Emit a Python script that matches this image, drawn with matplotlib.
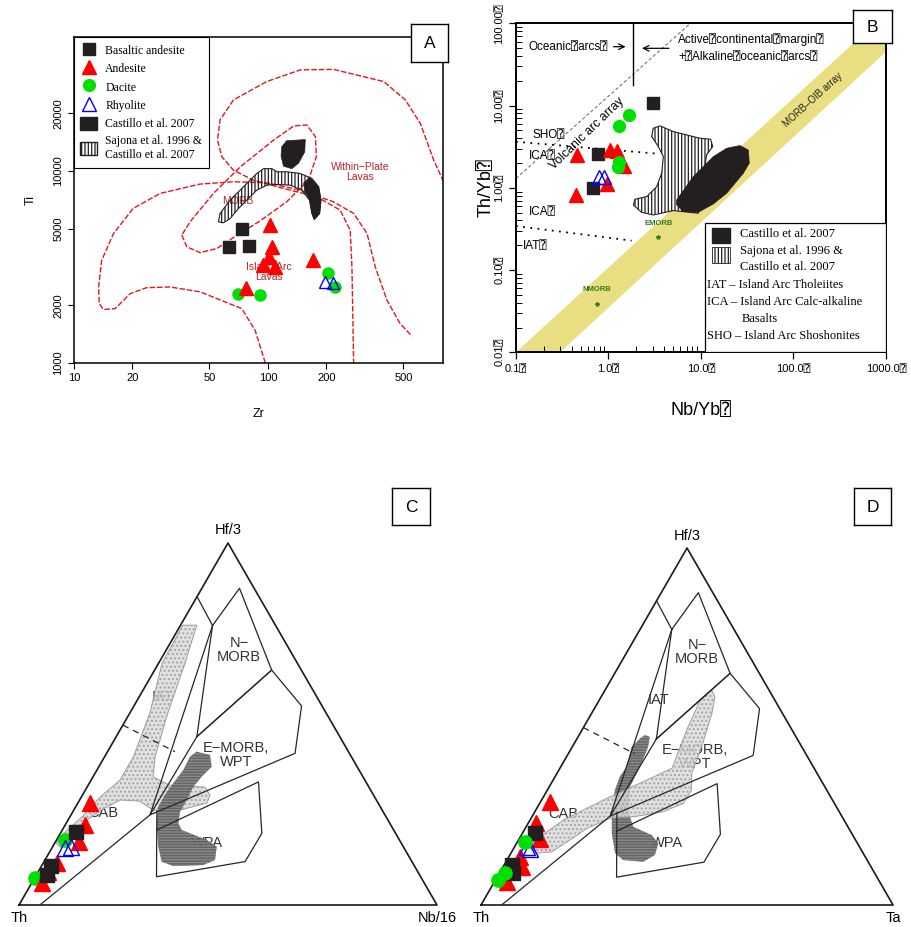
import numpy as np
import matplotlib.pyplot as plt
from matplotlib.patches import Polygon, Rectangle, Patch
from matplotlib.lines import Line2D

plt.rcParams['font.family'] = ['Liberation Sans', 'DejaVu Sans', 'DejaVu Sans Mono']
plt.rcParams['hatch.linewidth'] = 0.9

Q = '\u2370'  # the unrendered glyph box that shows in panel B
SERIF = ['Liberation Serif', 'DejaVu Serif']
BLK, RED, GRN, BLU = '#231f20', '#ff0000', '#00e000', '#0000ff'
FIELD_RED = '#e5161d'

# ---------------- panel A : Ti vs Zr ----------------
ba_zr = [74, 63, 80]
ba_ti = [5000, 4000, 4050]
and_zr = [103, 105, 101, 94, 109, 170, 77]
and_ti = [5250, 4000, 3550, 3250, 3150, 3450, 2450]
dac_zr = [70, 91, 204, 222]
dac_ti = [2300, 2250, 2950, 2500]
rhy_zr = [196, 218]
rhy_ti = [2650, 2620]

# field boundaries (Pearce 1982)
arc_zr = [97, 86, 73.4, 44.7, 31.3, 23.7, 19.5, 16.3, 14.2, 13.5, 13.4, 13.9, 16.0, 20.2,
          27.8, 44.7, 66.5, 98.8, 147, 218, 277, 325, 358, 412, 482, 554]
arc_ti = [1000, 1480, 1920, 2350, 2490, 2470, 2300, 1920, 1900, 2040, 2490, 3430, 4730, 6390,
          7650, 8560, 8800, 8690, 7960, 6920, 6020, 4730, 3170, 2120, 1600, 1380]
wp_zr = [807, 717, 612, 512, 396, 218, 147, 98.8, 66.5, 56.7, 55.0, 57.9, 66.5, 84.3, 120.5,
         179, 236, 266, 271.5, 277]
wp_ti = [8800, 11400, 17700, 23500, 29300, 33900, 33700, 29300, 23500, 18500, 14500, 11900,
         10100, 8970, 8120, 7350, 6260, 4920, 3170, 1000]
morb_zr = [36.0, 38.2, 44.7, 54.6, 66.5, 91.3, 125, 162, 178, 176, 159, 136, 107, 71.9, 52.4,
           39.7, 36.0]
morb_ti = [4640, 4030, 3760, 3950, 4510, 5510, 6920, 8970, 11900, 15100, 17400, 17200, 14500,
           10500, 7650, 5440, 4640]

cas_a_zr = [118, 125, 156, 155, 144, 133, 120.5, 117]
cas_a_ti = [13400, 14400, 14600, 12600, 11000, 10300, 10600, 12000]
saj_a_zr = [55.6, 56.7, 63.9, 74.9, 87.7, 95.0, 104.9, 111.3, 125.4, 146.9, 168.7, 182.6, 187.8,
            184.9, 173.5, 168.7, 164.1, 149.8, 130.4, 111.3, 98.8, 87.7, 77.9, 70.6, 63.9, 59.0]
saj_a_ti = [5440, 6015, 7060, 8290, 9720, 10300, 10300, 9920, 9920, 9720, 9160, 8290, 7060,
            6015, 5600, 6015, 7060, 7960, 8450, 8520, 8450, 7960, 7060, 6390, 5660, 5380]
tail_a_zr = [165, 183, 188, 185, 173.5, 169, 164, 156, 153]
tail_a_ti = [9270, 8290, 7060, 6015, 5600, 6015, 7060, 7800, 8690]

# ---------------- panel B : Th/Yb vs Nb/Yb ----------------
b_ba_x = [3.0, 0.776, 0.674]
b_ba_y = [10.6, 2.55, 0.986]
b_and_x = [0.46, 0.442, 0.955, 1.04, 1.225, 1.48]
b_and_y = [2.51, 0.818, 1.10, 2.88, 2.83, 1.86]
b_dac_x = [1.68, 1.31, 1.29, 1.27]
b_dac_y = [7.61, 5.70, 2.04, 1.81]
b_rhy_x = [0.796, 0.894]
b_rhy_y = [1.34, 1.34]

cas_b_x = [5.46, 8.26, 13.6, 18.95, 26.4, 32.5, 33.3, 28.7, 18.95, 13.6, 9.36, 6.44, 5.46]
cas_b_y = [0.711, 1.367, 2.39, 3.02, 3.26, 2.88, 1.99, 1.50, 0.857, 0.636, 0.503, 0.513, 0.618]
saj_b_x = [3.05, 3.61, 5.02, 7.0, 9.75, 12.7, 13.4, 11.5, 9.36, 5.02, 3.05, 2.28, 1.86, 1.93,
           2.59, 3.32, 3.76, 3.92, 3.46, 2.93]
saj_b_y = [5.29, 5.65, 4.82, 4.39, 4.0, 3.89, 3.17, 2.51, 0.49, 0.528, 0.467, 0.503, 0.618,
           0.725, 0.781, 1.03, 1.50, 2.39, 3.17, 4.19]

array_x = [0.1, 1000, 1000, 0.3]
array_y = [0.01, 131.8, 45, 0.01]
arc_array_x = [0.1, 7.7]
arc_array_y = [1.3, 100]
sho_x = [0.1, 3.6]
sho_y = [3.63, 2.58]
iat_x = [0.1, 1.78]
iat_y = [0.343, 0.2275]
divide_x = [1.85, 1.85]
divide_y = [17.8, 100]
ref_names = ['EMORB', 'NMORB']
ref_x = [3.45, 0.745]
ref_y = [0.25, 0.0386]

# ---------------- panels C and D : Th - Hf/3 - Nb/16 (Ta) ----------------
# compositions given as (Hf/3 fraction, Nb/16 or Ta fraction); Th is the remainder
seg_hf, seg_nb = [0.852, 0.772], [0.0, 0.077]
nmorb_hf = [0.772, 0.875, 0.649, 0.465, 0.772]
nmorb_nb = [0.077, 0.090, 0.280, 0.193, 0.077]
emorb_hf = [0.465, 0.649, 0.550, 0.419, 0.249, 0.465]
emorb_nb = [0.193, 0.280, 0.401, 0.451, 0.189, 0.193]
arc_hf = [0.772, 0.249, 0.0]
arc_nb = [0.077, 0.189, 0.05]
wpa_hf = [0.260, 0.207, 0.078, 0.120, 0.198, 0.340, 0.207]
wpa_nb = [0.200, 0.226, 0.290, 0.481, 0.482, 0.403, 0.226]
cab_hf = [0.497, 0.4235]
cab_nb = [0.0, 0.1615]

band_c_hf = [0.773, 0.773, 0.669, 0.530, 0.409, 0.354, 0.331, 0.326, 0.304, 0.282, 0.262, 0.262,
             0.287, 0.290, 0.260, 0.221, 0.157, 0.171, 0.191, 0.246, 0.298, 0.345, 0.409, 0.530,
             0.669]
band_c_nb = [0.005, 0.039, 0.063, 0.091, 0.121, 0.144, 0.195, 0.282, 0.305, 0.309, 0.254, 0.190,
             0.145, 0.097, 0.064, 0.036, 0.024, 0.003, 0.005, 0.030, 0.045, 0.069, 0.069, 0.048,
             0.008]
dark_c_hf = [0.4235, 0.4144, 0.3820, 0.3545, 0.3269, 0.2901, 0.2578, 0.2257, 0.2072, 0.1796,
             0.1611, 0.1243, 0.1105, 0.1077, 0.1196, 0.1611, 0.2257, 0.2715, 0.3039, 0.3362,
             0.3729, 0.4097]
dark_c_nb = [0.2134, 0.2497, 0.2700, 0.2599, 0.2536, 0.2562, 0.2563, 0.2683, 0.2856, 0.3592,
             0.3925, 0.4067, 0.3857, 0.3152, 0.2816, 0.2528, 0.2166, 0.1975, 0.1974, 0.2010,
             0.2066, 0.2043]
band_d_hf = [0.588, 0.602, 0.583, 0.537, 0.443, 0.369, 0.322, 0.285, 0.261, 0.247, 0.243, 0.215,
             0.182, 0.149, 0.145, 0.159, 0.177, 0.238, 0.294, 0.350, 0.383, 0.490, 0.574]
band_d_nb = [0.250, 0.259, 0.276, 0.292, 0.314, 0.327, 0.350, 0.349, 0.311, 0.246, 0.192, 0.150,
             0.125, 0.097, 0.063, 0.040, 0.038, 0.081, 0.150, 0.227, 0.272, 0.254, 0.245]
dark_d_hf = [0.476, 0.471, 0.443, 0.387, 0.331, 0.257, 0.219, 0.196, 0.173, 0.140, 0.121, 0.126,
             0.145, 0.201, 0.257, 0.322, 0.359, 0.387, 0.443, 0.467]
dark_d_nb = [0.160, 0.174, 0.184, 0.192, 0.196, 0.230, 0.260, 0.316, 0.344, 0.352, 0.333, 0.282,
             0.253, 0.217, 0.189, 0.164, 0.157, 0.160, 0.144, 0.153]

c_and_hf = [0.281, 0.221, 0.175, 0.115, 0.060, 0.091]
c_and_nb = [0.030, 0.048, 0.057, 0.033, 0.024, 0.024]
c_ba_hf = [0.2025, 0.108, 0.083]
c_ba_nb = [0.035, 0.022, 0.025]
c_dac_hf = [0.180, 0.074]
c_dac_nb = [0.020, 0.001]
c_rhy_hf = [0.158, 0.159]
c_rhy_nb = [0.031, 0.046]

d_and_hf = [0.289, 0.229, 0.184, 0.135, 0.107, 0.065]
d_and_nb = [0.023, 0.019, 0.051, 0.027, 0.045, 0.030]
d_ba_hf = [0.202, 0.112, 0.089]
d_ba_nb = [0.029, 0.0185, 0.034]
d_dac_hf = [0.177, 0.089, 0.070]
d_dac_nb = [0.018, 0.014, 0.007]
d_rhy_hf = [0.163, 0.158]
d_rhy_nb = [0.030, 0.040]

SQ3 = np.sqrt(3) / 2


def tern(hf, nb):
    hf = np.asarray(hf, float)
    nb = np.asarray(nb, float)
    return nb + hf / 2, hf * SQ3


fig = plt.figure(figsize=(9.11, 9.27), dpi=100)

# ======== A ========
axA = fig.add_axes([0.0812, 0.6084, 0.405, 0.3517])
axA.set_xscale('log')
axA.set_yscale('log')
axA.set_xlim(10, 800)
axA.set_ylim(1000, 50000)
axA.set_xticks([10, 20, 50, 100, 200, 500])
axA.set_xticklabels(['10', '20', '50', '100', '200', '500'])
axA.set_yticks([1000, 2000, 5000, 10000, 20000])
axA.set_yticklabels(['1000', '2000', '5000', '10000', '20000'], rotation=90, va='center')
axA.minorticks_off()
axA.tick_params(labelsize=8, length=4, width=0.8)
axA.set_xlabel('Zr', fontsize=9, labelpad=18)
axA.set_ylabel('Ti', fontsize=9, labelpad=12)
for s in axA.spines.values():
    s.set_linewidth(1.1)

dash = (0, (4, 1.4))
axA.plot(arc_zr, arc_ti, color=FIELD_RED, ls=dash, lw=1.0, zorder=2)
axA.plot(wp_zr, wp_ti, color=FIELD_RED, ls=dash, lw=1.0, zorder=2)
axA.plot(morb_zr, morb_ti, color=FIELD_RED, ls=dash, lw=1.0, zorder=2)
axA.text(300, 9900, 'Within\u2212Plate\nLavas', color='#b3262c', fontsize=7.5,
         ha='center', va='center', linespacing=1.1)
axA.text(70, 7000, 'MORB', color='#b3262c', fontsize=7.5, ha='center', va='center', zorder=1)
axA.text(101, 2980, 'Island Arc\nLavas', color='#b3262c', fontsize=7.5,
         ha='center', va='center', linespacing=1.1, zorder=1)

axA.add_patch(Polygon(np.column_stack([saj_a_zr, saj_a_ti]), closed=True, facecolor='none',
                      edgecolor=BLK, hatch='|||||', lw=0.8, zorder=3))
axA.add_patch(Polygon(np.column_stack([tail_a_zr, tail_a_ti]), closed=True, facecolor=BLK,
                      edgecolor=BLK, lw=0.5, zorder=3))
axA.add_patch(Polygon(np.column_stack([cas_a_zr, cas_a_ti]), closed=True, facecolor=BLK,
                      edgecolor=BLK, lw=0.5, zorder=3))

axA.plot(ba_zr, ba_ti, 's', color=BLK, ms=8, zorder=5)
axA.plot(dac_zr, dac_ti, 'o', color=GRN, ms=8, zorder=5)
axA.plot(rhy_zr, rhy_ti, '^', mfc='none', mec=BLU, mew=1.0, ms=9, zorder=5)
axA.plot(and_zr, and_ti, '^', color=RED, ms=9.5, zorder=6)

hA = [Line2D([], [], marker='s', color=BLK, ls='', ms=8),
      Line2D([], [], marker='^', color=RED, ls='', ms=9.5),
      Line2D([], [], marker='o', color=GRN, ls='', ms=8.5),
      Line2D([], [], marker='^', mfc='none', mec=BLU, ls='', ms=9.5),
      Patch(facecolor=BLK, edgecolor=BLK),
      Patch(facecolor='white', edgecolor=BLK, hatch='|||||')]
lA = ['Basaltic andesite', 'Andesite', 'Dacite', 'Rhyolite', 'Castillo et al. 2007',
      'Sajona et al. 1996 &\nCastillo et al. 2007']
legA = axA.legend(hA, lA, loc='upper left', bbox_to_anchor=(0, 1), borderaxespad=0,
                  fancybox=False, edgecolor='black', framealpha=1,
                  prop={'family': SERIF, 'size': 8.5},
                  handlelength=1.4, handleheight=1.3, labelspacing=0.42, handletextpad=0.7,
                  borderpad=0.55)
legA.get_frame().set_linewidth(0.8)
legA.set_zorder(10)

# ======== B ========
axB = fig.add_axes([0.5664, 0.6200, 0.4061, 0.3549])
axB.set_xscale('log')
axB.set_yscale('log')
axB.set_xlim(0.1, 1000)
axB.set_ylim(0.01, 100)
axB.set_xticks([0.1, 1, 10, 100, 1000])
axB.set_xticklabels(['0.1' + Q, '1.0' + Q, '10.0' + Q, '100.0' + Q, '1000.0' + Q])
axB.set_yticks([0.01, 0.1, 1, 10, 100])
axB.set_yticklabels(['0.01' + Q, '0.10' + Q, '1.00' + Q, '10.00' + Q, '100.00' + Q],
                    rotation=90, va='center')
axB.tick_params(which='major', labelsize=8, length=5, width=0.9, direction='out')
axB.tick_params(which='minor', length=4, width=0.7, direction='in')
axB.set_xlabel('Nb/Yb' + Q, fontsize=13, labelpad=20)
axB.set_ylabel('Th/Yb' + Q, fontsize=13, labelpad=0)
for s in axB.spines.values():
    s.set_linewidth(1.4)

axB.add_patch(Polygon(np.column_stack([array_x, array_y]), closed=True, facecolor='#e9df82',
                      edgecolor='none', zorder=1))
axB.text(163, 11.7, 'MORB\u2013OIB array', rotation=42, fontsize=7, color='#222222',
         ha='center', va='center', rotation_mode='anchor')
axB.plot(arc_array_x, arc_array_y, color='#777777', ls=(0, (3, 2)), lw=0.8, zorder=2)
axB.plot(divide_x, divide_y, color='black', lw=1.0, zorder=2)
axB.plot(sho_x, sho_y, color='black', ls=(0, (1, 3)), lw=1.3, zorder=2)
axB.plot(iat_x, iat_y, color='black', ls=(0, (1, 3)), lw=1.3, zorder=2)
axB.text(0.58, 4.6, 'Volcanic arc array', rotation=44, fontsize=8.8, ha='center', va='center',
         rotation_mode='anchor')
axB.text(0.138, 51.9, 'Oceanic' + Q + 'arcs' + Q, fontsize=8.5, ha='left', va='center')
axB.annotate('', xy=(1.64, 51.9), xytext=(1.06, 51.9),
             arrowprops=dict(arrowstyle='->', lw=0.9, color='black'))
axB.annotate('', xy=(2.15, 49.6), xytext=(4.82, 49.6),
             arrowprops=dict(arrowstyle='->', lw=0.9, color='black'))
axB.text(5.68, 63.8, 'Active' + Q + 'continental' + Q + 'margin' + Q, fontsize=8.5,
         ha='left', va='center')
axB.text(5.68, 38.6, '+' + Q + 'Alkaline' + Q + 'oceanic' + Q + 'arcs' + Q, fontsize=8.5,
         ha='left', va='center')
axB.text(0.152, 4.39, 'SHO' + Q, fontsize=8.5, ha='left', va='center')
axB.text(0.139, 2.44, 'ICA' + Q, fontsize=8.5, ha='left', va='center')
axB.text(0.139, 0.512, 'ICA' + Q, fontsize=8.5, ha='left', va='center')
axB.text(0.12, 0.196, 'IAT' + Q, fontsize=8.5, ha='left', va='center')
axB.plot(ref_x, ref_y, '*', color='#2e7d1f', ms=3, zorder=3)
for name, x, y in zip(ref_names, ref_x, ref_y):
    axB.text(x, y * 1.35, name, color='#2e7d1f', fontsize=5.5, fontweight='bold',
             ha='center', va='bottom')

axB.add_patch(Polygon(np.column_stack([saj_b_x, saj_b_y]), closed=True, facecolor='white',
                      edgecolor=BLK, hatch='|||||', lw=0.8, zorder=3))
axB.add_patch(Polygon(np.column_stack([cas_b_x, cas_b_y]), closed=True, facecolor=BLK,
                      edgecolor=BLK, lw=0.5, zorder=4))

axB.plot(b_ba_x, b_ba_y, 's', color=BLK, ms=9, zorder=5)
axB.plot(b_and_x, b_and_y, '^', color=RED, ms=10, zorder=5)
axB.plot(b_dac_x, b_dac_y, 'o', color=GRN, ms=8.5, zorder=6)
axB.plot(b_rhy_x, b_rhy_y, '^', mfc='none', mec=BLU, mew=1.0, ms=10, zorder=6)

# legend box of panel B
axB.add_patch(Rectangle((0.511, 0.0), 0.489, 0.392, transform=axB.transAxes, facecolor='white',
                        edgecolor='black', lw=0.9, zorder=7))
axB.add_patch(Rectangle((0.5305, 0.331), 0.048, 0.0456, transform=axB.transAxes,
                        facecolor=BLK, edgecolor=BLK, zorder=8))
axB.add_patch(Rectangle((0.5305, 0.2723), 0.048, 0.0486, transform=axB.transAxes,
                        facecolor='white', edgecolor=BLK, hatch='|||||', lw=0.6, zorder=8))
legB = [(0.605, 0.3596, 'Castillo et al. 2007'),
        (0.605, 0.3088, 'Sajona et al. 1996 &'),
        (0.605, 0.2584, 'Castillo et al. 2007'),
        (0.516, 0.2046, 'IAT \u2013 Island Arc Tholeiites'),
        (0.516, 0.1529, 'ICA \u2013 Island Arc Calc-alkaline'),
        (0.611, 0.1012, 'Basalts'),
        (0.516, 0.0495, 'SHO \u2013 Island Arc Shoshonites')]
for x, y, t in legB:
    axB.text(x, y, t, transform=axB.transAxes, family=SERIF, fontsize=9, ha='left',
             va='center', zorder=8)


# ======== C and D ========
def ternary(rect, right_label, band, dark, band_on_top, samples, labels):
    ax = fig.add_axes(rect)
    ax.set_xlim(0, 1)
    ax.set_ylim(0, SQ3)
    ax.axis('off')
    tx, ty = tern([0, 0, 1, 0], [0, 1, 0, 0])
    ax.plot(tx, ty, color='#1a1a1a', lw=1.2, clip_on=False, zorder=4)
    for hf, nb in [(seg_hf, seg_nb), (nmorb_hf, nmorb_nb), (emorb_hf, emorb_nb),
                   (arc_hf, arc_nb), (wpa_hf, wpa_nb)]:
        ax.plot(*tern(hf, nb), color='#262626', lw=0.9, zorder=4)
    ax.plot(*tern(cab_hf, cab_nb), color='#262626', lw=0.9, ls=(0, (5, 4)), zorder=4)

    for x, y, t in labels:
        ax.text(x, y, t, fontsize=10.5, color='#333333', ha='center', va='center',
                linespacing=1.05, zorder=2)
    ax.text(0.5, 0.896, 'Hf/3', fontsize=10.5, ha='center', va='center')
    ax.text(0.0, -0.031, 'Th', fontsize=10.5, ha='center', va='center')
    ax.text(1.0, -0.031, right_label, fontsize=10.5, ha='center', va='center')

    band_xy = np.column_stack(tern(*band))
    dark_xy = np.column_stack(tern(*dark))
    zb, zd = (3.2, 3.0) if band_on_top else (3.0, 3.2)
    ax.add_patch(Polygon(band_xy, closed=True, facecolor='#dadada', edgecolor='#8c8c8c',
                         lw=0.7, alpha=0.82, zorder=zb))
    ax.add_patch(Polygon(band_xy, closed=True, facecolor='none', edgecolor='#a2a2a2',
                         hatch='....', lw=0, zorder=zb))
    ax.add_patch(Polygon(dark_xy, closed=True, facecolor='#555555', edgecolor='none',
                         alpha=0.9, zorder=zd))
    ax.add_patch(Polygon(dark_xy, closed=True, facecolor='none', edgecolor='#8a8a8a',
                         hatch='------', lw=0, zorder=zd))

    for z, (hf, nb, kw) in enumerate(samples):
        ax.plot(*tern(hf, nb), ls='', zorder=5 + z, clip_on=False, **kw)
    return ax


sq = dict(marker='s', color=BLK, ms=10)
tri = dict(marker='^', color=RED, ms=11)
circ = dict(marker='o', color=GRN, ms=9.5)
otri = dict(marker='^', mfc='none', mec=BLU, mew=1.0, ms=11)

ternary([0.02086, 0.02373, 0.4588, 0.3905], 'Nb/16',
        (band_c_hf, band_c_nb), (dark_c_hf, dark_c_nb), False,
        [(c_dac_hf, c_dac_nb, circ), (c_and_hf, c_and_nb, tri),
         (c_rhy_hf, c_rhy_nb, otri), (c_ba_hf, c_ba_nb, sq)],
        [(0.526, 0.610, 'N\u2212\nMORB'), (0.519, 0.359, 'E\u2212MORB,\nWPT'),
         (0.450, 0.148, 'WPA'), (0.344, 0.498, 'IAT'), (0.201, 0.220, 'CAB')])

ternary([0.5280, 0.02373, 0.4523, 0.3851], 'Ta',
        (band_d_hf, band_d_nb), (dark_d_hf, dark_d_nb), True,
        [(d_and_hf, d_and_nb, tri), (d_ba_hf, d_ba_nb, sq),
         (d_rhy_hf, d_rhy_nb, otri), (d_dac_hf, d_dac_nb, circ)],
        [(0.524, 0.614, 'N\u2212\nMORB'), (0.519, 0.359, 'E\u2212MORB,\nWPT'),
         (0.451, 0.150, 'WPA'), (0.430, 0.498, 'IAT'), (0.199, 0.221, 'CAB')])


# panel letters in boxes
def tag(rect, letter):
    a = fig.add_axes(rect)
    a.set_xticks([])
    a.set_yticks([])
    a.set_facecolor('white')
    a.text(0.5, 0.48, letter, ha='center', va='center', fontsize=12.5, transform=a.transAxes)
    for s in a.spines.values():
        s.set_linewidth(1.0)


tag([0.4512, 0.9331, 0.0406, 0.0410], 'A')
tag([0.9367, 0.9533, 0.0420, 0.0359], 'B')
tag([0.4303, 0.4337, 0.0417, 0.0399], 'C')
tag([0.9374, 0.4337, 0.0406, 0.0399], 'D')

fig.savefig('out.png', dpi=100)
